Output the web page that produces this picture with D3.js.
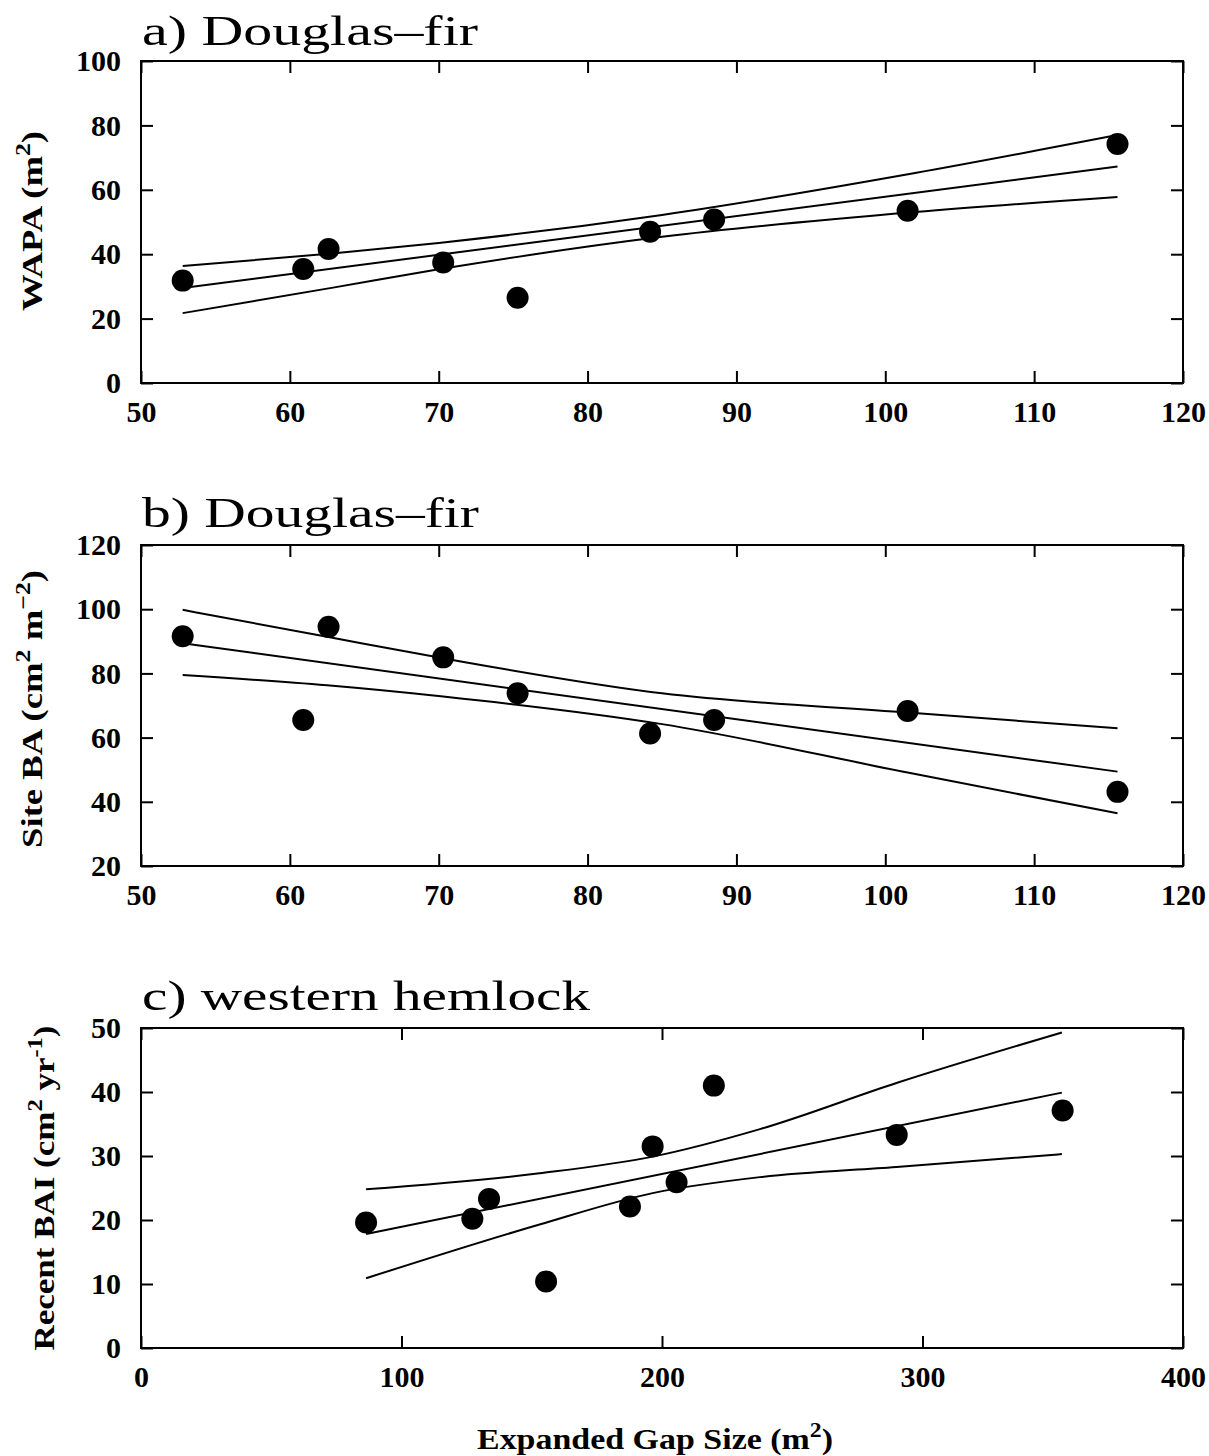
<!DOCTYPE html>
<html><head><meta charset="utf-8">
<script src="https://cdn.jsdelivr.net/npm/d3@7"></script>
<style>body{margin:0;background:#fff}</style>
</head><body>
<svg id="chart" width="1209" height="1456"></svg>
<script>
// ---------- data ----------
const gapDF = [52.8, 60.9, 62.6, 70.3, 75.3, 84.2, 88.5, 101.5, 115.6];
const wapa = [31.8, 35.4, 41.6, 37.4, 26.5, 47.0, 50.8, 53.5, 74.2];
const siteBA = [91.6, 65.5, 94.5, 85.0, 73.8, 61.3, 65.5, 68.3, 43.1];
const gapWH = [86.4, 127.2, 133.6, 155.5, 187.7, 196.4, 205.6, 219.9, 290.1, 353.8];
const recentBAI = [19.6, 20.2, 23.3, 10.4, 22.1, 31.5, 25.9, 41.0, 33.3, 37.1];

const fitA_x = [52.8, 115.6], fitA_y = [29.5, 67.2];
const ciA_x = [52.8, 63, 70, 85, 102, 115.6];
const ciA_upper = [36.3, 40.3, 43.5, 52.2, 65.2, 77.0];
const ciA_lower = [21.7, 29.7, 35.3, 45.4, 53.1, 57.8];

const fitB_x = [52.8, 115.6], fitB_y = [89.4, 49.4];
const ciB_x = [52.8, 62.5, 70.3, 85, 101.5, 115.6];
const ciB_upper = [99.8, 91.4, 84.7, 73.8, 67.8, 62.9];
const ciB_lower = [79.5, 76.3, 72.8, 64.2, 49.1, 36.4];

const fitC_x = [86.4, 353.5], fitC_y = [17.8, 39.9];
const ciC_x = [86.4, 153, 196.4, 237.6, 290, 353.5];
const ciC_upper = [24.8, 27.3, 29.9, 34.2, 41.4, 49.3];
const ciC_lower = [10.9, 19.3, 24.2, 26.7, 28.3, 30.3];

const xTicksDF = [50, 60, 70, 80, 90, 100, 110, 120];
const xTicksWH = [0, 100, 200, 300, 400];
const yTicksA = [0, 20, 40, 60, 80, 100];
const yTicksB = [20, 40, 60, 80, 100, 120];
const yTicksC = [0, 10, 20, 30, 40, 50];

const titles = ["a) Douglas\u2013fir", "b) Douglas\u2013fir", "c) western hemlock"];

// ---------- drawing ----------
const svg = d3.select("#chart");
const FONT = "'Liberation Serif','Times New Roman',serif";
const L = 141, R = 1183;

function panel(o) {
  const x = d3.scaleLinear().domain(o.xDom).range([L, R]);
  const y = d3.scaleLinear().domain(o.yDom).range([o.bot, o.top]);
  const g = svg.append("g");

  const tick = 12;
  const styleAxis = sel => {
    sel.select(".domain").remove();
    sel.selectAll(".tick line").attr("stroke", "#000").attr("stroke-width", 2);
    sel.selectAll(".tick text").attr("font-family", FONT).attr("font-size", 30)
       .attr("font-weight", "bold").attr("fill", "#000");
  };
  g.append("g").attr("transform", `translate(0,${o.bot})`)
    .call(d3.axisBottom(x).tickValues(o.xTicks).tickSize(-tick).tickPadding(18).tickFormat(d3.format("d")))
    .call(styleAxis);
  g.append("g").attr("transform", `translate(0,${o.top})`)
    .call(d3.axisTop(x).tickValues(o.xTicks).tickSize(-tick).tickFormat(""))
    .call(styleAxis);
  g.append("g").attr("transform", `translate(${L},0)`)
    .call(d3.axisLeft(y).tickValues(o.yTicks).tickSize(-tick).tickPadding(20).tickFormat(d3.format("d")))
    .call(styleAxis);
  g.append("g").attr("transform", `translate(${R},0)`)
    .call(d3.axisRight(y).tickValues(o.yTicks).tickSize(-tick).tickFormat(""))
    .call(styleAxis);

  g.append("rect").attr("x", L).attr("y", o.top).attr("width", R - L).attr("height", o.bot - o.top)
    .attr("fill", "none").attr("stroke", "#000").attr("stroke-width", 2);

  const line = d3.line().x(d => x(d[0])).y(d => y(d[1])).curve(d3.curveMonotoneX);
  const series = [
    d3.zip(o.fitX, o.fitY),
    d3.zip(o.ciX, o.ciU),
    d3.zip(o.ciX, o.ciL)
  ];
  g.selectAll("path.fit").data(series).join("path").attr("class", "fit")
    .attr("d", line).attr("fill", "none").attr("stroke", "#000").attr("stroke-width", 2);

  g.selectAll("circle").data(d3.zip(o.px, o.py)).join("circle")
    .attr("cx", d => x(d[0])).attr("cy", d => y(d[1])).attr("r", 11).attr("fill", "#000");

  g.append("text").attr("x", 142).attr("y", o.titleY).attr("font-family", FONT)
    .attr("font-size", 43).attr("fill", "#000")
    .attr("textLength", o.titleW).attr("lengthAdjust", "spacingAndGlyphs").text(o.title);

  const yl = g.append("text").attr("transform", `translate(${o.ylX},${o.ylY}) rotate(-90)`)
    .attr("text-anchor", "middle").attr("font-family", FONT).attr("font-size", 30)
    .attr("font-weight", "bold").attr("fill", "#000")
    .attr("textLength", o.ylW).attr("lengthAdjust", "spacingAndGlyphs");
  o.ylParts.forEach(p => {
    const t = yl.append("tspan").text(p[0]);
    if (p[1]) t.attr("baseline-shift", "super").attr("font-size", 21);
  });
}

panel({xDom: [50, 120], yDom: [0, 100], top: 61, bot: 383, xTicks: xTicksDF, yTicks: yTicksA,
  px: gapDF, py: wapa, fitX: fitA_x, fitY: fitA_y, ciX: ciA_x, ciU: ciA_upper, ciL: ciA_lower,
  title: titles[0], titleY: 45, titleW: 336,
  ylX: 42, ylY: 221, ylW: 180, ylParts: [["WAPA (m"], ["2", 1], [")"]]});

panel({xDom: [50, 120], yDom: [20, 120], top: 545, bot: 866, xTicks: xTicksDF, yTicks: yTicksB,
  px: gapDF, py: siteBA, fitX: fitB_x, fitY: fitB_y, ciX: ciB_x, ciU: ciB_upper, ciL: ciB_lower,
  title: titles[1], titleY: 527, titleW: 337,
  ylX: 42, ylY: 709, ylW: 278, ylParts: [["Site BA (cm"], ["2", 1], [" m"], ["\u22122", 1], [")"]]});

panel({xDom: [0, 400], yDom: [0, 50], top: 1028, bot: 1348, xTicks: xTicksWH, yTicks: yTicksC,
  px: gapWH, py: recentBAI, fitX: fitC_x, fitY: fitC_y, ciX: ciC_x, ciU: ciC_upper, ciL: ciC_lower,
  title: titles[2], titleY: 1010, titleW: 448,
  ylX: 54, ylY: 1188, ylW: 325, ylParts: [["Recent BAI (cm"], ["2", 1], [" yr"], ["-1", 1], [")"]]});

const xl = svg.append("text").attr("x", 655).attr("y", 1449).attr("text-anchor", "middle")
  .attr("font-family", FONT).attr("font-size", 30).attr("font-weight", "bold").attr("fill", "#000")
  .attr("textLength", 356).attr("lengthAdjust", "spacingAndGlyphs");
xl.append("tspan").text("Expanded Gap Size (m");
xl.append("tspan").attr("baseline-shift", "super").attr("font-size", 21).text("2");
xl.append("tspan").text(")");
</script>
</body></html>
